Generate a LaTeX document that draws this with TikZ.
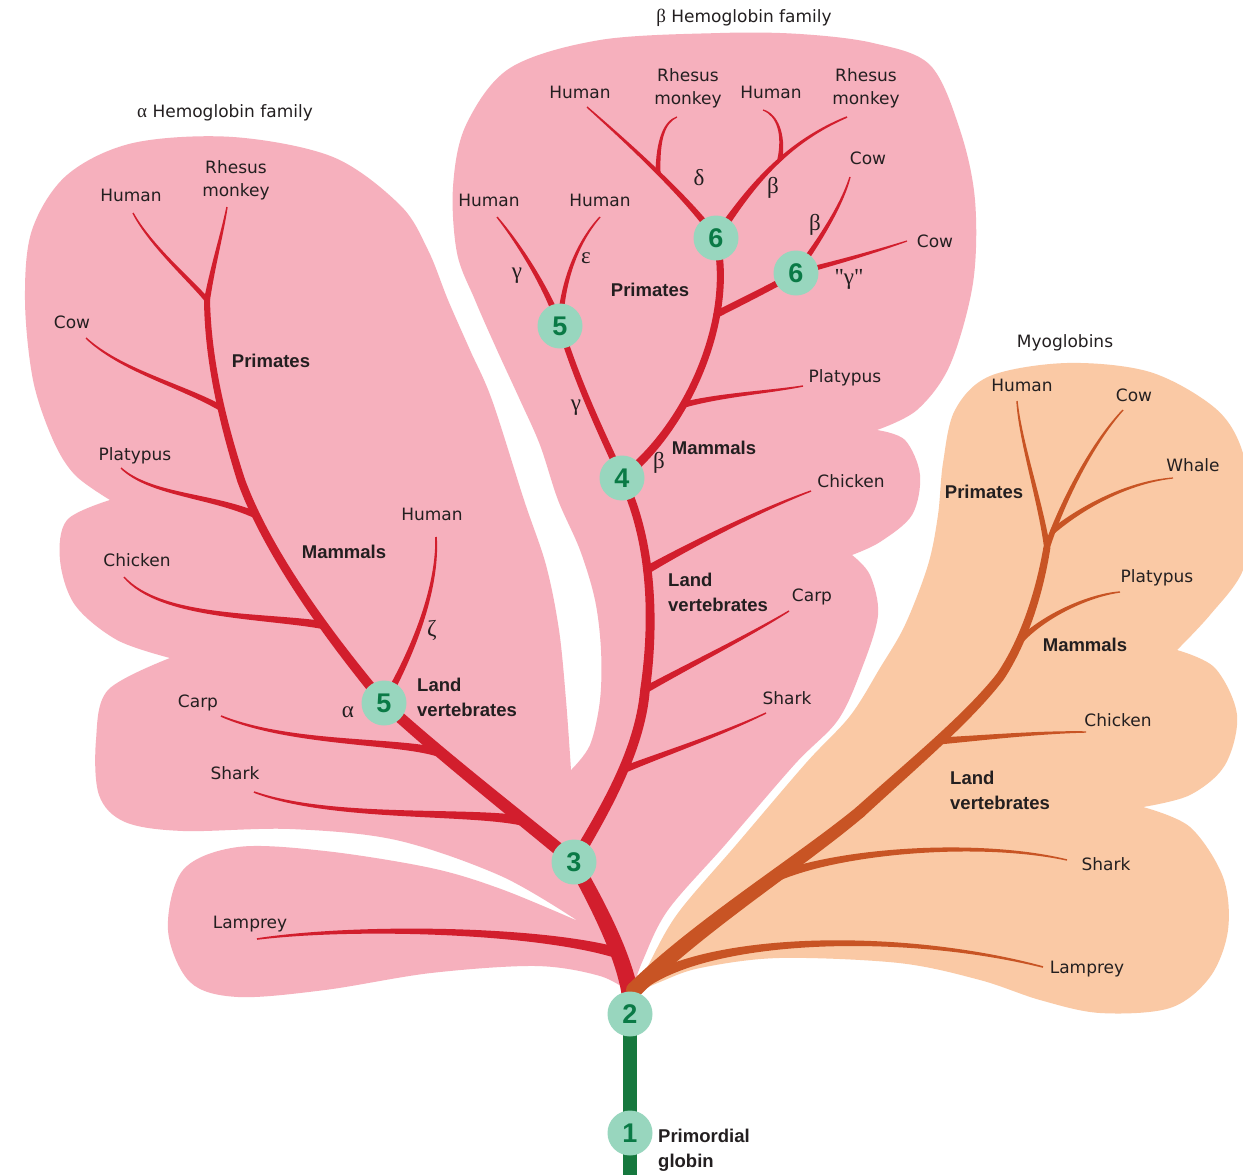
\documentclass[tikz,border=0pt]{standalone}
\usepackage{fontspec}
\setmainfont{DejaVu Sans}
\newfontfamily\blabfont{Liberation Sans}
\newfontfamily\grkfont{Liberation Serif}
\usetikzlibrary{calc}
\definecolor{pinkfill}{RGB}{246,176,189}
\definecolor{redbr}{RGB}{210,30,45}
\definecolor{orfill}{RGB}{250,201,165}
\definecolor{orbr}{RGB}{200,84,36}
\definecolor{mint}{RGB}{152,214,190}
\definecolor{numgreen}{RGB}{10,122,70}
\definecolor{stemgreen}{RGB}{22,120,62}
\definecolor{ink}{RGB}{35,31,32}
% tapered branch: colour, start, control1, control2, end, start half-width, end half-width
\newcommand\twig[7]{%
 \pgfmathsetmacro\twa{#6}%
 \pgfmathsetmacro\twb{(2*#6+#7)/3}%
 \pgfmathsetmacro\twc{(#6+2*#7)/3}%
 \pgfmathsetmacro\twd{#7}%
 \fill[#1] ($(#2)!\twa pt!90:(#3)$) .. controls ($(#3)!\twb pt!90:(#4)$) and ($(#4)!\twc pt!90:(#5)$) .. ($(#5)!\twd pt!-90:(#4)$) -- ($(#5)!\twd pt!90:(#4)$) .. controls ($(#4)!\twc pt!-90:(#5)$) and ($(#3)!\twb pt!-90:(#4)$) .. ($(#2)!\twa pt!-90:(#3)$) -- cycle;
 \fill[#1] (#2) circle (\twa pt);}
\begin{document}
\begin{tikzpicture}[x=1pt,y=-1pt,
 lab/.style={text=ink, font=\fontsize{17}{23}\selectfont, inner sep=0pt, align=center},
 blab/.style={text=ink, font=\blabfont\bfseries\fontsize{18.5}{25}\selectfont, inner sep=0pt, align=left},
 grk/.style={text=ink, font=\grkfont\fontsize{23}{23}\selectfont, inner sep=0pt},
 num/.style={circle, fill=mint, minimum size=45pt, inner sep=0pt, text=numgreen, font=\blabfont\bfseries\fontsize{27}{27}\selectfont}]
\useasboundingbox (0,0) rectangle (1243,1175);
\fill[white] (0,0) rectangle (1243,1175);

% ---------- pink region (haemoglobins)
\fill[pinkfill] (631,993)
 -- plot[smooth, tension=0.55] coordinates {(631,993) (600,976) (536,966) (431,973) (325,990) (238,997) (190,982) (168,930) (183,870) (238,847) (325,851) (431,868) (501,889) (578,921)}
 -- plot[smooth, tension=0.55] coordinates {(578,921) (501,876) (396,840) (290,829) (183,831) (125,822) (99,795) (96,740) (108,690) (170,658)}
 -- plot[smooth, tension=0.55] coordinates {(170,658) (117,640) (75,605) (60,560) (67,520) (110,500)}
 -- plot[smooth, tension=0.55] coordinates {(110,500) (75,475) (53,440) (33,380) (25,300) (32,230) (67,175) (133,143) (233,137) (333,157) (400,205) (428,250) (448,300) (470,350) (492,400) (524,500) (546,565) (559,630) (566,700) (571,770)}
 -- plot[smooth, tension=0.55] coordinates {(571,770) (590,745) (600,700) (601,650) (595,600) (580,550) (558,500) (540,445) (520,400) (497,350) (475,300) (457,253) (453,187) (466,125) (510,68) (600,40) (720,33) (800,34) (873,43) (930,65) (960,130) (975,200) (973,283) (950,365) (917,410) (877,430)}
 -- plot[smooth, tension=0.55] coordinates {(877,430) (905,440) (920,475) (912,515) (880,542) (852,555)}
 -- plot[smooth, tension=0.55] coordinates {(852,555) (870,575) (878,615) (862,668) (838,720) (795,764) (725,845) (668,910) (643,960) (631,993)}
 -- cycle;

% ---------- orange region (myoglobins)
\fill[orfill] (636,993)
 -- plot[smooth, tension=0.55] coordinates {(636,993) (650,962) (678,913) (736,845) (806,763) (850,716) (880,668) (905,625) (928,565) (938,515) (943,463) (955,410) (990,376) (1067,363) (1150,372) (1215,408) (1242,450) (1250,510) (1243,570) (1210,615) (1177,650)}
 -- plot[smooth, tension=0.55] coordinates {(1177,650) (1215,668) (1237,715) (1225,765) (1190,795) (1143,807)}
 -- plot[smooth, tension=0.55] coordinates {(1143,807) (1190,827) (1223,877) (1228,930) (1210,977) (1170,1008) (1100,1013) (1040,1000) (980,980) (899,963) (779,958) (700,968) (660,982) (636,993)}
 -- cycle;

% ---------- named points
\coordinate (n1c) at (630,1133);
\coordinate (n2c) at (630,1014);
\coordinate (botc) at (630,1175);
\coordinate (rR) at (630,993);
\coordinate (n3c) at (574,862);
\coordinate (a5c) at (384,703);
\coordinate (n4c) at (622,478);
\coordinate (b5c) at (560,326);
\coordinate (b6c) at (716,238);
\coordinate (c6c) at (796,273);
% alpha
\coordinate (jLamA) at (618,953); \coordinate (tLamA) at (257,939);
\coordinate (jShA) at (524,821);  \coordinate (tShA) at (254,792);
\coordinate (jCaA) at (441,753);  \coordinate (tCaA) at (221,716);
\coordinate (jA1) at (241,480);
\coordinate (jPA) at (207,300);
\coordinate (tRhA) at (227,207);  \coordinate (tHuA) at (133,213);
\coordinate (jCoA) at (221,408);  \coordinate (tCoA) at (86,338);
\coordinate (jPlA) at (256,515);  \coordinate (tPlA) at (121,468);
\coordinate (jChA) at (323,625);  \coordinate (tChA) at (124,577);
\coordinate (tZeA) at (436,537);
% beta
\coordinate (jB1) at (645,690);
\coordinate (jShB) at (623,770); \coordinate (tShB) at (766,713);
\coordinate (jCaB) at (645,690); \coordinate (tCaB) at (789,611);
\coordinate (jChB) at (647,570); \coordinate (tChB) at (811,491);
\coordinate (jPlB) at (683,405); \coordinate (tPlB) at (803,386);
\coordinate (jC6) at (717,314);
\coordinate (tCo1) at (850,177); \coordinate (tCo2) at (907,241);
\coordinate (tDe) at (587,107);
\coordinate (jRh1) at (658,172); \coordinate (tRh1) at (677,117);
\coordinate (tRh2) at (847,117);
\coordinate (jHu2) at (780,159); \coordinate (tHu2) at (763,110);
\coordinate (tGa) at (497,217);  \coordinate (tEp) at (600,217);
% myoglobin
\coordinate (rM) at (634,990);
\coordinate (tLamM) at (1043,967);
\coordinate (jM1) at (860,812);
\coordinate (jM2) at (1000,677);
\coordinate (jPM) at (1047,547);
\coordinate (jShM) at (774,878); \coordinate (tShM) at (1067,860);
\coordinate (jChM) at (939,741); \coordinate (tChM) at (1086,732);
\coordinate (jPlM) at (1020,641); \coordinate (tPlM) at (1120,592);
\coordinate (tHuM) at (1017,401); \coordinate (tCoM) at (1123,410);
\coordinate (jWhM) at (1053,531); \coordinate (tWhM) at (1173,478);

% ---------- green stem
\draw[stemgreen, line width=14pt] (n2c) -- (botc);

% ---------- red tree
\twig{redbr}{rR}{622,950}{595,900}{n3c}{8.5}{7}
\twig{redbr}{jLamA}{540,930}{360,925}{tLamA}{5.5}{0.8}
\twig{redbr}{n3c}{530,825}{440,755}{a5c}{6.5}{5.5}
\twig{redbr}{jShA}{470,810}{330,820}{tShA}{5}{0.8}
\twig{redbr}{jCaA}{400,740}{290,745}{tCaA}{4.5}{0.8}
\twig{redbr}{a5c}{340,650}{270,560}{jA1}{5}{4}
\twig{redbr}{jA1}{222,420}{208,360}{jPA}{4}{3}
\twig{redbr}{jPA}{213,265}{222,235}{tRhA}{3}{0.7}
\twig{redbr}{jPA}{190,280}{150,245}{tHuA}{2.5}{0.7}
\twig{redbr}{jCoA}{180,385}{120,370}{tCoA}{3}{0.7}
\twig{redbr}{jPlA}{210,495}{150,495}{tPlA}{3.5}{0.7}
\twig{redbr}{jChA}{260,615}{160,618}{tChA}{4}{0.7}
\twig{redbr}{a5c}{420,640}{438,580}{tZeA}{3.5}{0.8}
% beta branches
\twig{redbr}{n3c}{605,810}{640,750}{jB1}{5.5}{4.8}
\twig{redbr}{jB1}{655,620}{652,540}{n4c}{4.8}{4}
\twig{redbr}{jShB}{660,755}{720,735}{tShB}{3.5}{0.7}
\twig{redbr}{jCaB}{690,665}{750,635}{tCaB}{3.5}{0.7}
\twig{redbr}{jChB}{690,545}{760,510}{tChB}{4}{0.7}
\twig{redbr}{n4c}{605,440}{580,390}{b5c}{3.5}{3}
\twig{redbr}{n4c}{690,425}{735,315}{b6c}{4.5}{3.5}
\twig{redbr}{jPlB}{720,395}{770,392}{tPlB}{3}{0.7}
\twig{redbr}{jC6}{745,300}{775,285}{c6c}{3.5}{3}
\twig{redbr}{c6c}{820,240}{842,205}{tCo1}{3}{0.7}
\twig{redbr}{c6c}{840,262}{880,250}{tCo2}{2.8}{0.6}
\twig{redbr}{b6c}{690,200}{630,145}{tDe}{3.5}{0.7}
\twig{redbr}{jRh1}{658,140}{664,122}{tRh1}{2.5}{0.6}
\twig{redbr}{b6c}{745,195}{780,145}{tRh2}{4}{0.8}
\twig{redbr}{jHu2}{784,135}{778,115}{tHu2}{2.5}{0.6}
\twig{redbr}{b5c}{548,290}{520,245}{tGa}{3.5}{0.7}
\twig{redbr}{b5c}{562,285}{575,245}{tEp}{3}{0.7}

% ---------- myoglobin tree
\twig{orbr}{rM}{700,925}{800,862}{jM1}{8}{6}
\twig{orbr}{jM1}{915,762}{968,718}{jM2}{6}{4.5}
\twig{orbr}{jM2}{1025,640}{1040,590}{jPM}{4.5}{3.5}
\twig{orbr}{rM}{700,935}{900,930}{tLamM}{6}{0.8}
\twig{orbr}{jShM}{840,850}{980,840}{tShM}{4.5}{0.7}
\twig{orbr}{jChM}{980,738}{1040,732}{tChM}{3.5}{0.7}
\twig{orbr}{jPlM}{1045,615}{1090,595}{tPlM}{3}{0.7}
\twig{orbr}{jPM}{1040,500}{1020,440}{tHuM}{3}{0.7}
\twig{orbr}{jPM}{1065,495}{1095,440}{tCoM}{3}{0.7}
\twig{orbr}{jWhM}{1085,505}{1130,482}{tWhM}{2.8}{0.6}

% ---------- numbered nodes
\node[num] (n1) at (n1c) {1};
\node[num] (n2) at (n2c) {2};
\node[num] (n3) at (n3c) {3};
\node[num] (n4) at (n4c) {4};
\node[num] (b5) at (b5c) {5};
\node[num] (b6) at (b6c) {6};
\node[num] (c6) at (c6c) {6};
\node[num] (a5) at (a5c) {5};

% ---------- alpha labels
\node[lab] (atitle) at (225,113) {{\grkfont\fontsize{19}{19}\selectfont α} Hemoglobin family};
\node[lab] (aHum) at (131,195) {Human};
\node[lab] (aRhe) at (236,180) {Rhesus\\monkey};
\node[lab] (aCow) at (72,322) {Cow};
\node[blab] (aPri) at (271,361) {Primates};
\node[lab] (aPla) at (135,456) {Platypus};
\node[blab] (aMam) at (344,552) {Mammals};
\node[lab] (aChi) at (137,560) {Chicken};
\node[lab] (aHum2) at (432,514) {Human};
\node[grk] (aZeta) at (432,630) {ζ};
\node[grk] (aAlpha) at (348,712) {α};
\node[blab, anchor=west] (aLand) at (417,697) {Land\\vertebrates};
\node[lab] (aCarp) at (198,703) {Carp};
\node[lab] (aShark) at (235,773) {Shark};
\node[lab] (aLam) at (250,924) {Lamprey};

% ---------- beta labels
\node[lab] (btitle) at (744,18) {{\grkfont\fontsize{19}{19}\selectfont β} Hemoglobin family};
\node[lab] (bHum1) at (580,92) {Human};
\node[lab] (bRhe1) at (688,88) {Rhesus\\monkey};
\node[lab] (bHum2) at (771,92) {Human};
\node[lab] (bRhe2) at (866,88) {Rhesus\\monkey};
\node[lab] (bCow1) at (868,158) {Cow};
\node[grk] (bDelta) at (699,178) {δ};
\node[grk] (bBeta1) at (773,188) {β};
\node[lab] (bHum3) at (489,200) {Human};
\node[lab] (bHum4) at (600,200) {Human};
\node[grk] (bBeta2) at (815,225) {β};
\node[lab] (bCow2) at (935,241) {Cow};
\node[grk] (bEps) at (586,258) {ε};
\node[grk] (bGam1) at (517,276) {γ};
\node[grk] (bGam2) at (849,279) {"γ"};
\node[blab] (bPri) at (650,290) {Primates};
\node[lab] (bPla) at (845,378) {Platypus};
\node[grk] (bGam3) at (576,408) {γ};
\node[blab] (bMam) at (714,448) {Mammals};
\node[grk] (bBeta3) at (659,463) {β};
\node[lab] (bChi) at (851,481) {Chicken};
\node[blab, anchor=west] (bLand) at (668,592) {Land\\vertebrates};
\node[lab] (bCarp) at (812,597) {Carp};
\node[lab] (bShark) at (787,698) {Shark};

% ---------- myoglobin labels
\node[lab] (mtitle) at (1065,343) {Myoglobins};
\node[lab] (mHum) at (1022,385) {Human};
\node[lab] (mCow) at (1134,395) {Cow};
\node[lab] (mWha) at (1193,465) {Whale};
\node[blab] (mPri) at (984,492) {Primates};
\node[lab] (mPla) at (1157,578) {Platypus};
\node[blab] (mMam) at (1085,645) {Mammals};
\node[lab] (mChi) at (1118,720) {Chicken};
\node[blab, anchor=west] (mLand) at (950,790) {Land\\vertebrates};
\node[lab] (mShark) at (1106,864) {Shark};
\node[lab] (mLam) at (1087,969) {Lamprey};

\node[blab, anchor=west] (prim) at (658,1150) {Primordial\\globin};
\end{tikzpicture}
\end{document}
